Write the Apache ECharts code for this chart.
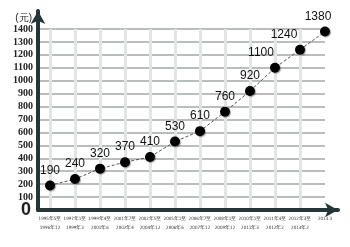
<!DOCTYPE html>
<html><head><meta charset="utf-8">
<script src="https://cdn.jsdelivr.net/npm/echarts@6/dist/echarts.min.js"></script>
<style>html,body{margin:0;padding:0;background:#fff}#c{width:350px;height:247px}</style>
</head><body><div id="c"></div>
<script>
const categories = ['1995年5至\n1996年12','1997年1至\n1999年3','1999年4至\n2001年6','2001年7至\n2002年4','2002年5至\n2004年12','2005年1至\n2006年6','2006年7至\n2007年12','2008年1至\n2009年12','2010年1至\n2011年3','2011年4至\n2012年2','2012年3至\n2013年2','2013.3'];
const wages = [190,240,320,370,410,530,610,760,920,1100,1240,1380];
const yMin = 0, yMax = 1400, yStep = 100;
const yUnit = '(元)';

const axisColor = '#263538';
const chart = echarts.init(document.getElementById('c'), null, {renderer:'canvas'});
const hidden = {show:false};
const labelOffsets = wages.map((v,i)=> i===9?[-14,0]:(i===10?[-16,0]:(i===11?[-7,0]:[0,0])));
chart.setOption({
  animation:false,
  backgroundColor:'#fff',
  grid:[
    {left:38,right:12,top:11,bottom:37},
    {left:38,right:25,top:29,bottom:37},
    {left:50,right:25,top:29,bottom:37}
  ],
  xAxis:[
    {gridIndex:0,type:'value',min:0,max:1,z:5,
     axisLine:{show:true,onZero:false,symbol:['none','arrow'],symbolSize:[11,13],lineStyle:{color:axisColor,width:4}},
     axisTick:hidden,axisLabel:hidden,splitLine:hidden},
    {gridIndex:1,type:'value',min:0,max:1,show:false},
    {gridIndex:2,type:'category',data:categories,boundaryGap:false,
     axisLine:hidden,axisTick:hidden,
     axisLabel:{interval:0,margin:4,fontSize:4.5,lineHeight:9,color:'#333',fontFamily:'DejaVu Sans Condensed'},
     splitLine:{show:true,interval:(i)=>i<categories.length-1,lineStyle:{color:'#e2e5e5',width:3}}}
  ],
  yAxis:[
    {gridIndex:0,type:'value',min:0,max:1,z:5,
     axisLine:{show:true,onZero:false,symbol:['none','arrow'],symbolSize:[11,13],lineStyle:{color:axisColor,width:4}},
     axisTick:hidden,axisLabel:hidden,splitLine:hidden},
    {gridIndex:1,type:'value',min:yMin,max:yMax,interval:yStep,
     name:yUnit,nameLocation:'end',nameGap:6,
     nameTextStyle:{align:'right',padding:[0,6,0,0],fontSize:10,color:'#222',fontFamily:'Liberation Sans'},
     axisLine:hidden,axisTick:hidden,
     axisLabel:{show:true,margin:5,fontSize:10,fontWeight:'bold',color:'#222',fontFamily:'Liberation Sans Narrow',
       formatter:(v)=> v===yMin?'':String(v)},
     splitLine:{show:true,lineStyle:{color:'#b9bdbd',width:2}}},
    {gridIndex:2,type:'value',min:yMin,max:yMax,interval:yStep,
     axisLine:hidden,axisTick:hidden,splitLine:hidden,
     axisLabel:{show:true,showMinLabel:true,margin:19,fontSize:18,fontWeight:'bold',color:'#222',fontFamily:'Liberation Sans',
       formatter:(v)=> v===yMin?String(v):''}}
  ],
  series:[{
    type:'line',xAxisIndex:2,yAxisIndex:2,
    data:wages.map((v,i)=>({value:v,label:{offset:labelOffsets[i]}})),
    symbol:'circle',symbolSize:10,
    lineStyle:{color:'#555',width:1,type:[3,2]},
    itemStyle:{color:'#000',borderColor:'#000',borderWidth:0,shadowColor:'rgba(0,0,0,0.35)',shadowBlur:1,shadowOffsetX:1,shadowOffsetY:1},
    label:{show:true,position:'top',distance:4,fontSize:12,color:'#111',fontFamily:'Liberation Sans'}
  }]
});
</script></body></html>
